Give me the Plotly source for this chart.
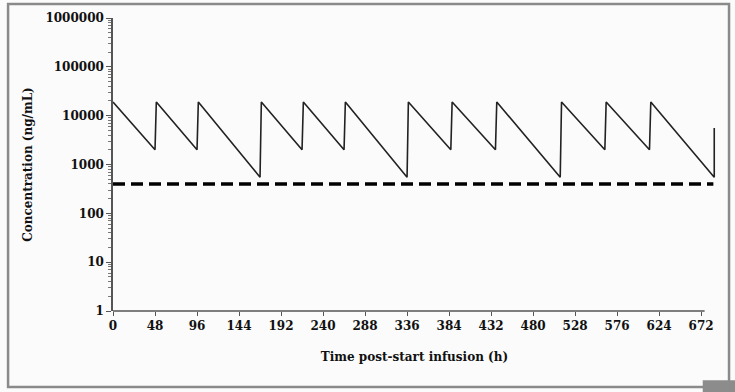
import plotly.graph_objects as go

# Data
dose_times = [0, 48, 96, 168, 216, 264, 336, 386, 437, 511, 562, 613, 687]
pre_dose_conc = [None, 2000, 2000, 550, 2000, 2000, 550, 2000, 2000, 550, 2000, 2000, 550]
peak_conc = [19000, 19000, 19000, 19000, 19000, 19000, 19000, 19000, 19000, 19000, 19000, 19000, 5600]
infusion_h = [0, 1.5, 1.5, 1.5, 1.5, 1.5, 1.5, 1.5, 1.5, 1.5, 1.5, 1.5, 0]
threshold = 400
threshold_x = [0, 686]
x_ticks = [0, 48, 96, 144, 192, 240, 288, 336, 384, 432, 480, 528, 576, 624, 672]
y_ticks = [1, 10, 100, 1000, 10000, 100000, 1000000]

xs, ys = [], []
for t, pre, pk, inf in zip(dose_times, pre_dose_conc, peak_conc, infusion_h):
    if pre is not None:
        xs.append(t); ys.append(pre)
    xs.append(t + inf); ys.append(pk)

minor_y = [d * m for d in y_ticks[:-1] for m in range(2, 10)]

FONT = "DejaVu Serif"
fig = go.Figure()
fig.add_trace(go.Scatter(x=xs, y=ys, mode="lines",
                         line=dict(color="#222222", width=1.6), showlegend=False))
fig.add_trace(go.Scatter(x=threshold_x, y=[threshold, threshold], mode="lines",
                         line=dict(color="black", width=3.5, dash="12px,6px"),
                         showlegend=False))

fig.update_layout(
    width=735, height=392,
    margin=dict(l=113, r=19, t=18, b=81),
    paper_bgcolor="#fbfbfb", plot_bgcolor="#fbfbfb",
    font=dict(family=FONT, color="#111111", size=12, weight="bold"),
    xaxis=dict(range=[0, 689], tickvals=x_ticks, ticktext=[str(v) for v in x_ticks],
               showgrid=False, zeroline=False, showline=False,
               ticks="outside", ticklen=4, tickcolor="#555",
               tickfont=dict(family=FONT, size=12, weight="bold"),
               title=dict(text="Time post-start infusion (h)", standoff=20,
                          font=dict(family=FONT, size=12, weight="bold"))),
    yaxis=dict(type="log", range=[0, 6], tickvals=y_ticks,
               ticktext=[str(v) for v in y_ticks],
               showgrid=False, zeroline=False, showline=True, linecolor="#555",
               linewidth=1.5, ticks="outside", ticklen=5, tickcolor="#555",
               minor=dict(ticks="outside", ticklen=3, tickcolor="#777",
                          tickvals=minor_y, showgrid=False),
               tickfont=dict(family=FONT, size=12, weight="bold"),
               title=dict(text="Concentration (ng/mL)", standoff=10,
                          font=dict(family=FONT, size=12, weight="bold"))),
    shapes=[
        dict(type="line", xref="x", yref="paper", x0=0, x1=676, y0=0, y1=0,
             line=dict(color="#555", width=1.5)),
        dict(type="rect", xref="paper", yref="paper", x0=-0.174, x1=1.0216,
             y0=-0.259, y1=1.048, line=dict(color="#8a8a8a", width=2.5)),
        dict(type="rect", xref="paper", yref="paper", x0=0.978, x1=1.04,
             y0=-0.30, y1=-0.236, fillcolor="#8c8c8c", line=dict(width=0)),
    ],
)
fig.write_html("out.html")
